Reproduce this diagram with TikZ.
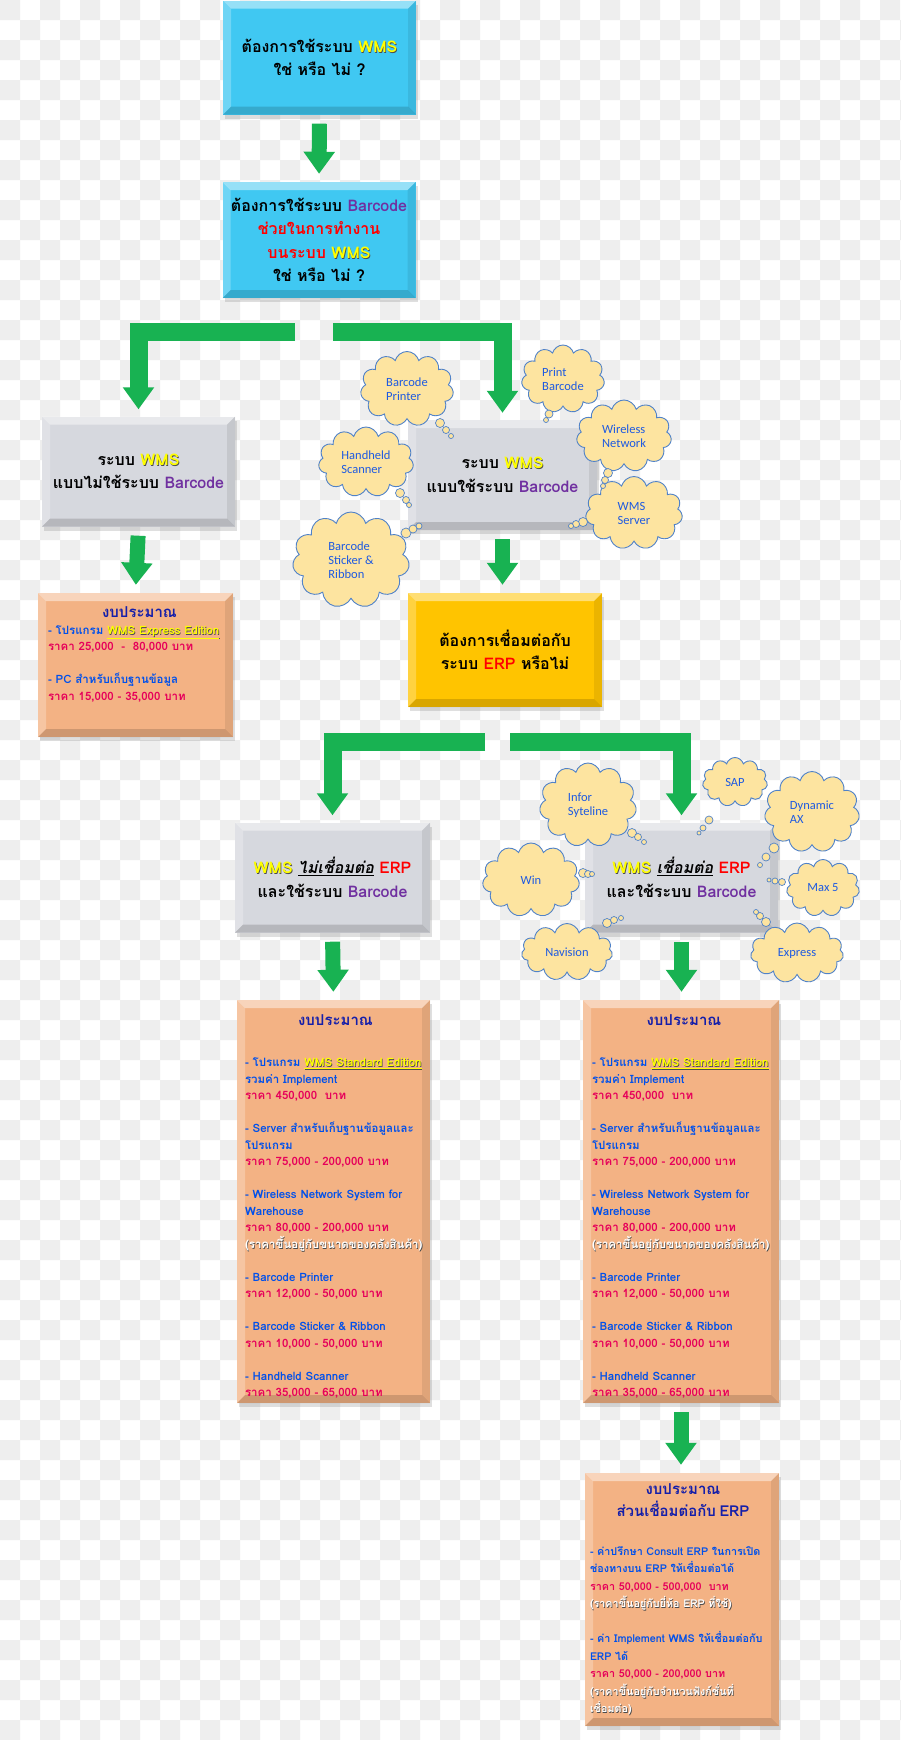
\documentclass[tikz,border=0pt]{standalone}
\usepackage{fontspec}
\usetikzlibrary{arrows.meta,positioning,calc,shapes.symbols,shadows}
\newfontfamily\thfont[Script=Thai]{Loma}
\newfontfamily\thslant[Script=Thai,FakeSlant=0.2]{Loma}
\newfontfamily\cloudfont{Carlito}
\definecolor{checkgray}{RGB}{238,238,238}
\definecolor{boxcyan}{RGB}{64,200,242}
\definecolor{boxgray}{RGB}{214,216,222}
\definecolor{boxgold}{RGB}{255,196,0}
\definecolor{boxpeach}{RGB}{243,178,132}
\definecolor{cloudfill}{RGB}{253,228,160}
\definecolor{clouddraw}{RGB}{80,130,200}
\definecolor{cloudtext}{RGB}{30,90,225}
\definecolor{arrowgreen}{RGB}{24,178,82}
\definecolor{wmsyellow}{RGB}{255,255,0}
\definecolor{bcpurple}{RGB}{112,48,160}
\definecolor{erpred}{RGB}{255,0,0}
\definecolor{budnavy}{RGB}{20,30,170}
\definecolor{itemblue}{RGB}{0,80,235}
\definecolor{pricered}{RGB}{230,0,90}
% text with a small dark shadow
\newcommand\shtxt[2]{\leavevmode\rlap{\kern0.7pt\raisebox{-0.7pt}{\color{black!70}#2}}{\color{#1}#2}}
\newcommand\ywms{\shtxt{wmsyellow}{WMS}}
\newcommand\bcode{\textcolor{bcpurple}{Barcode}}
\newcommand\erp{\textcolor{erpred}{ERP}}
\newcommand\prc[1]{\textcolor{pricered}{#1}}
\newcommand\budtitle[1]{\leavevmode\hbox to\hsize{\hss\fontsize{15}{16.5}\selectfont\textcolor{budnavy}{#1}\hss}}
\newcommand\stdbudget{%
\budtitle{งบประมาณ}\\[24.5pt]
- โปรแกรม \shtxt{wmsyellow}{\underline{WMS Standard Edition}}\\
รวมค่า Implement\\
\prc{ราคา 450,000 \ บาท}\\[16.5pt]
- Server สำหรับเก็บฐานข้อมูลและ\\
โปรแกรม\\
\prc{ราคา 75,000 - 200,000 บาท}\\[16.5pt]
- Wireless Network System for\\
Warehouse\\
\prc{ราคา 80,000 - 200,000 บาท}\\
\shtxt{white}{(ราคาขึ้นอยู่กับขนาดของคลังสินค้า)}\\[16.5pt]
- Barcode Printer\\
\prc{ราคา 12,000 - 50,000 บาท}\\[16.5pt]
- Barcode Sticker \& Ribbon\\
\prc{ราคา 10,000 - 50,000 บาท}\\[16.5pt]
- Handheld Scanner\\
\prc{ราคา 35,000 - 65,000 บาท}}

\begin{document}
\begin{tikzpicture}[x=1pt,y=-1pt,
  bevel/.style={path picture={
    \def\ppbb{path picture bounding box}
    \fill[white,opacity=.45] (\ppbb.north west) -- (\ppbb.north east) -- ([shift={(-8pt,-8pt)}]\ppbb.north east) -- ([shift={(8pt,-8pt)}]\ppbb.north west) -- cycle;
    \fill[white,opacity=.25] (\ppbb.north west) -- (\ppbb.south west) -- ([shift={(8pt,8pt)}]\ppbb.south west) -- ([shift={(8pt,-8pt)}]\ppbb.north west) -- cycle;
    \fill[black,opacity=.15] (\ppbb.south west) -- (\ppbb.south east) -- ([shift={(-8pt,8pt)}]\ppbb.south east) -- ([shift={(8pt,8pt)}]\ppbb.south west) -- cycle;
    \fill[black,opacity=.08] (\ppbb.north east) -- (\ppbb.south east) -- ([shift={(-8pt,8pt)}]\ppbb.south east) -- ([shift={(-8pt,-8pt)}]\ppbb.north east) -- cycle;}},
  qbox/.style={bevel,drop shadow={opacity=.25,shadow xshift=2pt,shadow yshift=-4pt},fill=boxcyan,
    minimum width=193pt,minimum height=114pt,inner sep=0pt,align=center,font=\thfont\bfseries\fontsize{16}{23.5}\selectfont},
  gbox/.style={qbox,fill=boxgray,minimum height=110pt},
  bbox/.style={qbox,fill=boxpeach},
  btext/.style={anchor=base west,inner sep=0pt,align=left,text=itemblue,font=\thfont\bfseries\fontsize{11.5}{16.5}\selectfont},
  garrow/.style={draw=arrowgreen,line width=15pt,-{Triangle[length=22pt,width=30pt]},shorten <=9pt,shorten >=8pt},
  lbar/.style={garrow,line width=18pt,line join=miter,shorten <=0pt,shorten >=7pt},
  cloudbub/.style={cloud,cloud puffs=11,cloud ignores aspect,draw=clouddraw,fill=cloudfill,line width=0.9pt,
    text=cloudtext,align=left,inner sep=0pt,font=\cloudfont\fontsize{12.5}{14}\selectfont},
  bubble/.style={draw=clouddraw,fill=cloudfill,line width=0.7pt}]
\useasboundingbox (0,0) rectangle (900,1740);
\fill[white] (0,0) rectangle (900,1740);
\foreach \x in {0,40,...,880} \foreach \y in {0,40,...,1720}
  {\fill[checkgray] (\x,\y) rectangle ++(20,20) (\x+20,\y+20) rectangle ++(20,20);}

% questions
\node[qbox] (q1) at (319.5,57.5) {ต้องการใช้ระบบ \ywms\\ใช่ หรือ ไม่ ?};
\node[qbox,minimum height=116pt] (q2) at (319,240) {ต้องการใช้ระบบ \bcode\\\textcolor{erpred}{ช่วยในการทำงาน}\\\textcolor{erpred}{บนระบบ} \ywms\\ใช่ หรือ ไม่ ?};
\node[gbox] (nobc) at (138.5,471.5) {ระบบ \ywms\\แบบไม่ใช้ระบบ \bcode};
\node[gbox,minimum width=189pt] (wbc) at (502.5,475) {ระบบ \ywms\\แบบใช้ระบบ \bcode};
\node[qbox,fill=boxgold,minimum width=194pt] (erpq) at (505,650) {ต้องการเชื่อมต่อกับ\\ระบบ \erp\ หรือไม่};
\node[gbox,minimum width=195pt] (noerp) at (332.5,877.5) {\ywms\ \underline{\thslant ไม่เชื่อมต่อ} \erp\\และใช้ระบบ \bcode};
\node[gbox] (witherp) at (681.5,877.5) {\ywms\ \underline{\thslant เชื่อมต่อ} \erp\\และใช้ระบบ \bcode};

% budgets
\node[bbox,minimum width=195pt,minimum height=144pt] (bud1) at (135.5,665) {};
\node[btext,text width=183pt] (bud1t) at ([shift={(10pt,-25pt)}]bud1.north west) {%
\budtitle{งบประมาณ}\\
- โปรแกรม \shtxt{wmsyellow}{\underline{WMS Express Edition}}\\
\prc{ราคา 25,000 \ - \ 80,000 บาท}\\[16.5pt]
- PC สำหรับเก็บฐานข้อมูล\\
\prc{ราคา 15,000 - 35,000 บาท}};
\node[bbox,minimum width=193pt,minimum height=403pt] (bud2) at (333.5,1201.5) {};
\node[btext,text width=181pt] (bud2t) at ([shift={(8pt,-26pt)}]bud2.north west) {\stdbudget};
\node[bbox,minimum width=196pt,minimum height=403pt] (bud3) at (681,1201.5) {};
\node[btext,text width=184pt] (bud3t) at ([shift={(9pt,-26pt)}]bud3.north west) {\stdbudget};
\node[bbox,minimum width=194pt,minimum height=253pt] (bud4) at (682,1599.5) {};
\node[btext,text width=186pt,font=\thfont\bfseries\fontsize{10.8}{17.5}\selectfont] (bud4t) at ([shift={(5pt,-22pt)}]bud4.north west) {%
\budtitle{งบประมาณ}\\[4pt]
\budtitle{ส่วนเชื่อมต่อกับ ERP}\\[21.5pt]
- ค่าปรึกษา Consult ERP ในการเปิด\\
ช่องทางบน ERP ให้เชื่อมต่อได้\\
\prc{ราคา 50,000 - 500,000 \ บาท}\\
\shtxt{white}{(ราคาขึ้นอยู่กับยี่ห้อ ERP ที่ใช้)}\\[17.5pt]
- ค่า Implement WMS ให้เชื่อมต่อกับ\\
ERP ได้\\
\prc{ราคา 50,000 - 200,000 บาท}\\
\shtxt{white}{(ราคาขึ้นอยู่กับจำนวนฟังก์ชั่นที่}\\
\shtxt{white}{เชื่อมต่อ)}};

% green arrows
\draw[garrow] (q1.south) -- (q2.north);
\draw[garrow] (nobc.south) -- (bud1.north);
\draw[garrow] (wbc.south) -- (wbc.south |- erpq.north);
\draw[garrow] (noerp.south) -- (bud2.north);
\draw[garrow] (witherp.south) -- (witherp.south |- bud3.north);
\draw[garrow] (bud3.south) -- (bud3.south |- bud4.north);
\coordinate (splitA) at (295,332);
\coordinate (splitB) at (333,332);
\coordinate (splitC) at (485,742);
\coordinate (splitD) at (510,742);
\draw[lbar] (splitA) -| (nobc.north);
\draw[lbar] (splitB) -| (wbc.north);
\draw[lbar] (splitC) -| (noerp.north);
\draw[lbar] (splitD) -| (witherp.north);

% barcode clouds
\node[cloudbub,minimum width=93pt,minimum height=75pt] (cPrinter) at (407,389) {Barcode\\Printer};
\node[cloudbub,minimum width=83pt,minimum height=68pt] (cPrint) at (563,379) {Print\\Barcode};
\node[cloudbub,minimum width=95pt,minimum height=70pt] (cHandheld) at (366,462) {Handheld\\Scanner};
\node[cloudbub,minimum width=95pt,minimum height=72pt] (cWireless) at (624,436) {Wireless\\Network};
\node[cloudbub,minimum width=97pt,minimum height=73pt] (cServer) at (634,513) {WMS\\Server};
\node[cloudbub,minimum width=117pt,minimum height=96pt] (cSticker) at (351,560) {Barcode\\Sticker \&\\Ribbon};
% ERP clouds
\node[cloudbub,minimum width=97pt,minimum height=84pt] (cInfor) at (588,805) {Infor\\Syteline};
\node[cloudbub,minimum width=65pt,minimum height=49pt] (cSap) at (735,782) {SAP};
\node[cloudbub,minimum width=95pt,minimum height=81pt] (cDynamic) at (812,812) {Dynamic\\AX};
\node[cloudbub,minimum width=97pt,minimum height=74pt] (cWin) at (531,880) {Win};
\node[cloudbub,minimum width=73pt,minimum height=57pt] (cMax) at (823,888) {Max 5};
\node[cloudbub,minimum width=91pt,minimum height=57pt] (cNavision) at (567,952) {Navision};
\node[cloudbub,minimum width=93pt,minimum height=60pt] (cExpress) at (797,953) {Express};

% thought bubbles
\foreach \x/\y/\r in {440/423/4.5,446/430/3.5,451/436/2.5, 549/414/4,546/420/2.5,
  400/493/4.5,406/500/3.5,409/505/2.5, 608/473/4.5,605/480/3.5,603/486/2.5,
  583/522/4.5,576/524/3.5,571/526/2.5, 406/533/5,413/529/4,419/526/3,
  632/833/4.5,638/837/3.5,644/842/2.5, 709/820/4,703/828/3,699/833/2,
  774/848/5,766/857/4,760/865/2.5, 583/873/4.5,588/874/3.5,592/874/2.5,
  782/882/3.5,775/881/3,769/880/2, 607/923/4.5,614/920/3.5,621/918/2.5,
  766/922/4.5,760/916/3.5,756/912/2.5}
  \draw[bubble] (\x,\y) circle[radius=\r pt];
\end{tikzpicture}
\end{document}
